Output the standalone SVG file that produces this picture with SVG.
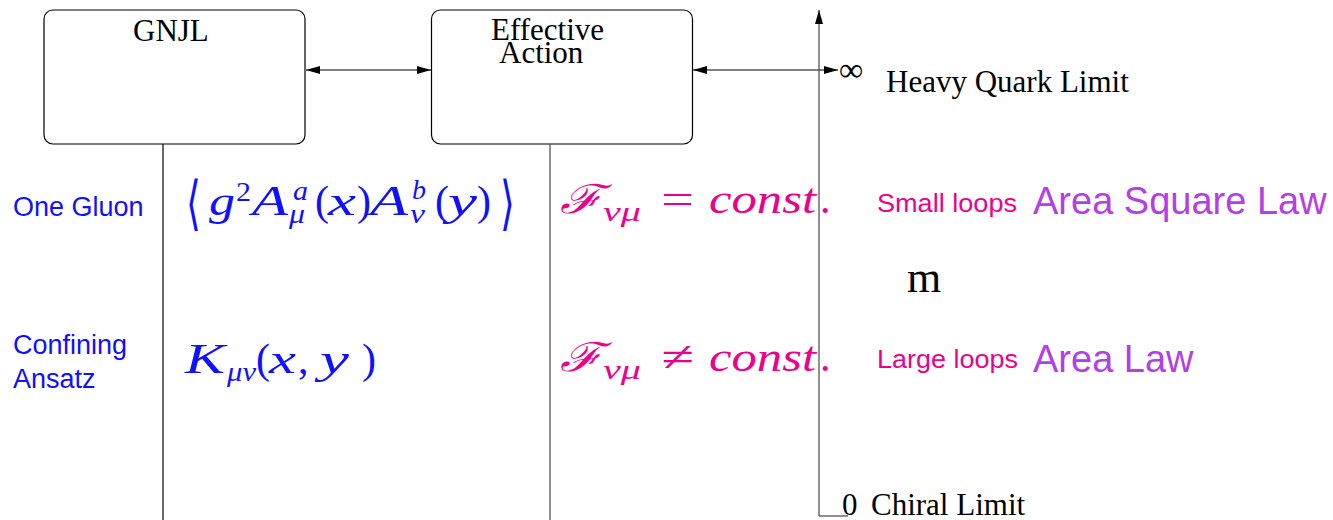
<svg xmlns="http://www.w3.org/2000/svg" width="1333" height="520" viewBox="0 0 1333 520">
<style>
.box{fill:#fff;stroke:#000;stroke-width:1.2}
.con{stroke:#555;stroke-width:1.3;fill:none}
.vl{stroke:#000;stroke-width:1.2;fill:none}
.tm{font-family:"Liberation Serif",serif;fill:#000}
.ss{font-family:"Liberation Sans",Arial,sans-serif}
.blue{fill:#1010ff}
.mag{fill:#ec008c}
.pur{fill:#b43ee8}
.mi{font-family:"Liberation Serif",serif;font-style:italic}
.mr{font-family:"Liberation Serif",serif}
.big{font-size:42px}
.sc{font-size:28px}
.dl{font-family:"DejaVu Sans",sans-serif;font-size:38px}
</style>
<defs>
<marker id="ah" viewBox="0 0 14 8" refX="14" refY="4" markerWidth="14" markerHeight="8" markerUnits="userSpaceOnUse" orient="auto-start-reverse">
<path d="M0,0 L14,4 L0,8 z" fill="#000"/>
</marker>
</defs>
<g id="gnjl">
<rect class="box" x="44" y="10" width="261" height="134" rx="9"/>
<text class="tm" x="133" y="41" font-size="31">GNJL</text>
</g>
<g id="effective">
<rect class="box" x="431.5" y="10" width="261" height="134" rx="9"/>
<text class="tm" x="491" y="40" font-size="31">Effective</text>
<text class="tm" x="499" y="63" font-size="31">Action</text>
</g>
<g id="connectors">
<line class="con" x1="306" y1="70" x2="431" y2="70" marker-start="url(#ah)" marker-end="url(#ah)"/>
<line class="con" x1="693" y1="70" x2="838" y2="70" marker-start="url(#ah)" marker-end="url(#ah)"/>
<line class="vl" x1="163" y1="144" x2="163" y2="520"/>
<line class="con" x1="550" y1="144" x2="550" y2="520"/>
</g>
<g id="axis">
<line class="con" x1="819" y1="516" x2="819" y2="10" marker-end="url(#ah)"/>
<line class="con" x1="819" y1="516" x2="848" y2="516"/>
<text class="tm" x="839" y="81" font-size="34">∞</text>
<text class="tm" x="886" y="92" font-size="31">Heavy Quark Limit</text>
<text class="tm" x="842" y="515" font-size="31">0</text>
<text class="tm" x="871" y="515" font-size="31">Chiral Limit</text>
<text class="tm" x="907" y="292" font-size="44">m</text>
</g>
<g id="labels-left" class="ss blue" font-size="27">
<text x="13" y="216">One Gluon</text>
<text x="13" y="354">Confining</text>
<text x="13" y="388">Ansatz</text>
</g>
<g id="formula-gluon" class="blue">
<text class="dl" transform="translate(186,223) scale(1,1.55)">⟨</text>
<text class="mi big" x="209" y="215" textLength="26" lengthAdjust="spacingAndGlyphs">g</text>
<text class="mr sc" x="236" y="201" textLength="15" lengthAdjust="spacingAndGlyphs">2</text>
<text class="mi big" x="252" y="215" textLength="36" lengthAdjust="spacingAndGlyphs">A</text>
<text class="mi sc" x="293" y="200" textLength="15" lengthAdjust="spacingAndGlyphs">a</text>
<text class="mi sc" x="289" y="223" textLength="16" lengthAdjust="spacingAndGlyphs">μ</text>
<text class="mr big" x="315" y="215">(</text>
<text class="mi big" x="328" y="215" textLength="28" lengthAdjust="spacingAndGlyphs">x</text>
<text class="mr big" x="357" y="215">)</text>
<text class="mi big" x="370" y="215" textLength="38" lengthAdjust="spacingAndGlyphs">A</text>
<text class="mi sc" x="412" y="199" textLength="14" lengthAdjust="spacingAndGlyphs">b</text>
<text class="mi sc" x="410" y="223" textLength="15" lengthAdjust="spacingAndGlyphs">ν</text>
<text class="mr big" x="435" y="215">(</text>
<text class="mi big" x="448" y="215" textLength="29" lengthAdjust="spacingAndGlyphs">y</text>
<text class="mr big" x="477" y="215">)</text>
<text class="dl" transform="translate(500,223) scale(1,1.55)">⟩</text>
</g>
<g id="formula-kernel" class="blue">
<text class="mi big" x="185" y="373" textLength="40" lengthAdjust="spacingAndGlyphs">K</text>
<text class="mi sc" x="227" y="381" textLength="29" lengthAdjust="spacingAndGlyphs">μν</text>
<text class="mr big" x="256" y="373">(</text>
<text class="mi big" x="269" y="373" textLength="27" lengthAdjust="spacingAndGlyphs">x</text>
<text class="mr big" x="298" y="373">,</text>
<text class="mi big" x="320" y="373" textLength="29" lengthAdjust="spacingAndGlyphs">y</text>
<text class="mr big" x="362" y="373">)</text>
</g>
<g id="formula-const" class="mag">
<text x="560" y="213" font-size="40" font-family="DejaVu Serif" font-style="italic" textLength="42" lengthAdjust="spacingAndGlyphs">ℱ</text>
<text class="mi sc" x="603" y="221" textLength="38" lengthAdjust="spacingAndGlyphs">νμ</text>
<text class="mr big" x="661" y="213" textLength="33" lengthAdjust="spacingAndGlyphs">=</text>
<text class="mi big" x="709" y="213" textLength="107" lengthAdjust="spacingAndGlyphs">const</text>
<text class="mr big" x="820" y="213">.</text>
</g>
<g id="formula-nonconst" class="mag">
<text x="560" y="371" font-size="40" font-family="DejaVu Serif" font-style="italic" textLength="42" lengthAdjust="spacingAndGlyphs">ℱ</text>
<text class="mi sc" x="603" y="379" textLength="38" lengthAdjust="spacingAndGlyphs">νμ</text>
<text class="mr big" x="661" y="371" textLength="33" lengthAdjust="spacingAndGlyphs">≠</text>
<text class="mi big" x="709" y="371" textLength="107" lengthAdjust="spacingAndGlyphs">const</text>
<text class="mr big" x="820" y="371">.</text>
</g>
<g id="loops" class="ss">
<text class="mag" x="877" y="212" font-size="26" textLength="140" lengthAdjust="spacingAndGlyphs">Small loops</text>
<text class="pur" x="1033" y="214" font-size="38">Area Square Law</text>
<text class="mag" x="877" y="368" font-size="26" textLength="141" lengthAdjust="spacingAndGlyphs">Large loops</text>
<text class="pur" x="1033" y="372" font-size="38">Area Law</text>
</g>
</svg>
